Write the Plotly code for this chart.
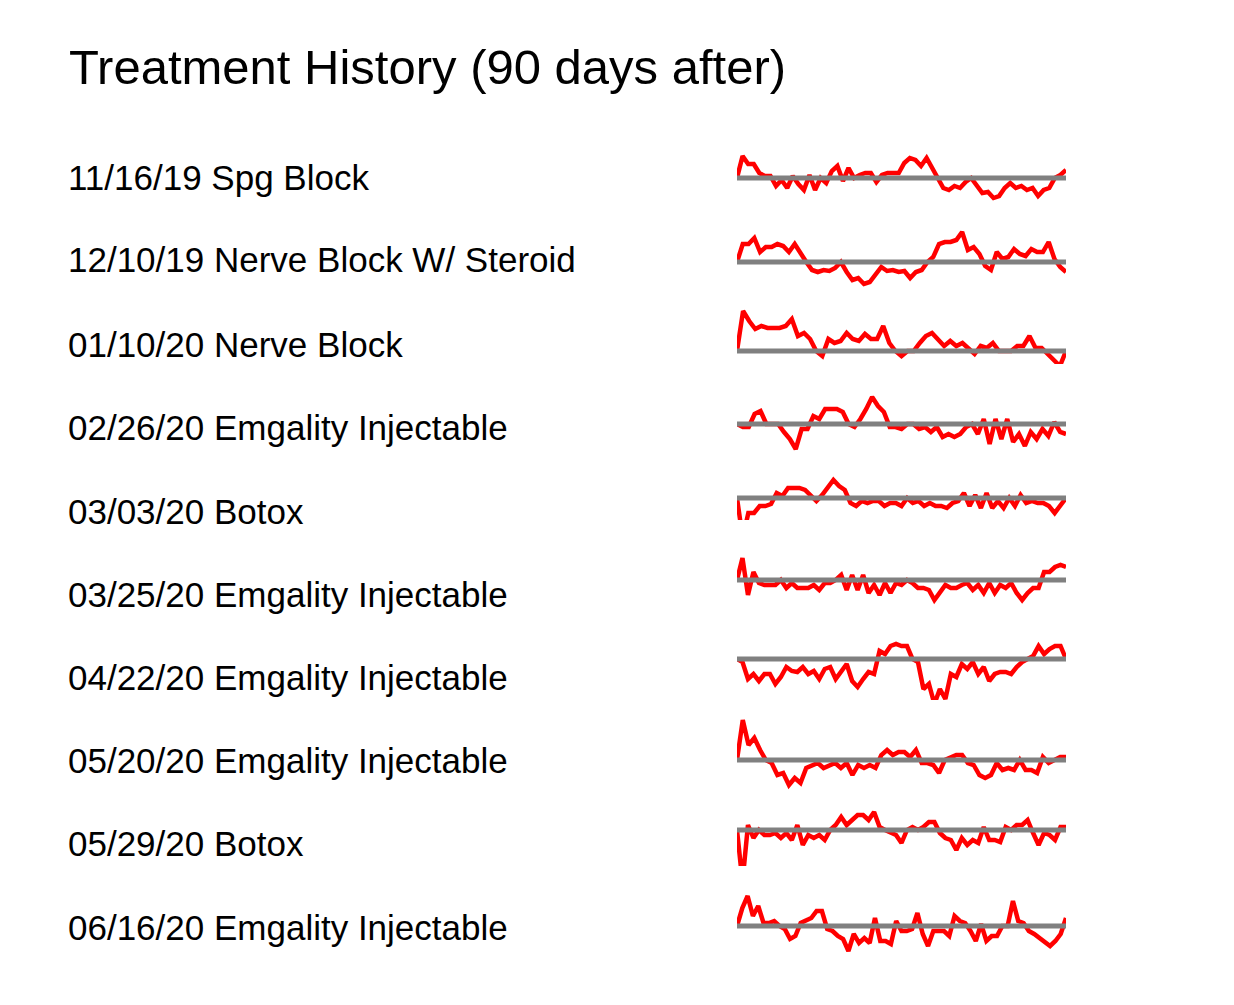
import plotly.graph_objects as go

labels = ["11/16/19 Spg Block", "12/10/19 Nerve Block W/ Steroid", "01/10/20 Nerve Block",
          "02/26/20 Emgality Injectable", "03/03/20 Botox", "03/25/20 Emgality Injectable",
          "04/22/20 Emgality Injectable", "05/20/20 Emgality Injectable", "05/29/20 Botox",
          "06/16/20 Emgality Injectable"]

s1 = [0,22,14,14,5,2,2,-8,-2,-10,2,-6,-12,3,-12,0,-5,7,12,-3,10,0,3,5,5,-4,3,5,5,5,15,20,18,12,20,10,0,-10,-12,-8,-10,-4,0,-8,-15,-14,-20,-18,-10,-5,-10,-8,-12,-10,-18,-12,-10,0,3,8]
s2 = [0,18,18,24,10,15,15,18,16,10,18,8,0,-8,-10,-8,-9,-6,0,-10,-18,-16,-22,-20,-12,-5,-9,-8,-10,-9,-16,-10,-8,0,5,18,20,20,22,30,12,15,8,-4,-8,10,3,5,13,8,6,13,10,10,20,3,-5,-10]
s3 = [0,40,30,22,25,23,23,23,25,32,15,18,12,0,-5,12,8,10,18,12,10,17,12,12,25,8,0,-5,0,0,8,15,18,12,5,10,5,8,3,-3,5,3,8,0,0,0,5,5,15,3,3,-3,-8,-15,0]
s4 = [0,-3,-3,10,13,0,0,0,-8,-15,-25,-5,-5,8,5,15,15,15,12,0,-3,5,15,27,18,12,-3,-3,-5,0,0,-5,-3,-8,-3,-13,-10,-13,-10,-3,0,-10,5,-20,5,-15,5,-18,-10,-22,-8,-15,-5,-12,2,-8,-10]
s5 = [0,-40,-15,-15,-8,-8,-6,5,2,10,10,10,8,3,-3,3,10,18,12,8,-5,-8,-3,-5,-3,-3,-8,-5,-5,-8,0,-5,-3,-8,-5,-8,-8,-10,-5,-3,5,-8,3,-10,5,-10,-3,-10,0,-8,3,-5,-3,-5,-5,-8,-15,-8,0]
s6 = [0,22,-15,8,-3,-5,-5,-5,0,-8,-3,-8,-8,-8,-5,-10,-3,-3,0,5,-10,5,-10,5,-13,-5,-15,-3,-13,-3,-5,0,-3,-8,-8,-10,-20,-13,-5,-8,-8,-5,-3,-10,-5,-13,-3,-13,-5,-8,-3,-13,-20,-13,-8,-8,8,8,13,15,13]
s7 = [0,-3,-20,-15,-22,-15,-15,-25,-18,-8,-12,-13,-8,-15,-12,-20,-10,-8,-20,-13,-5,-22,-28,-20,-13,-15,8,5,13,15,13,13,0,-3,-30,-25,-45,-30,-40,-15,-18,-5,-10,-3,-15,-8,-22,-15,-13,-13,-15,-8,-3,0,3,13,5,10,13,13,0]
s8 = [0,40,15,22,10,0,-3,-15,-13,-25,-18,-23,-8,-5,-3,-8,-5,-3,-8,-3,-15,-5,-8,-5,-8,5,10,5,8,8,3,10,-3,-3,-5,-13,0,3,5,5,-3,-5,-15,-18,-15,-3,-10,-8,-10,0,-10,-10,-13,3,-3,0,3,3]
s9 = [0,-52,5,-8,0,-5,-5,-3,-8,-3,-10,5,-15,-5,-8,-5,-10,0,5,13,5,10,15,15,10,18,3,0,-3,-5,-13,0,3,0,3,8,8,-3,-8,-10,-20,-8,-15,-10,-13,3,-10,-10,-12,3,0,5,5,10,-3,-15,-3,-5,-10,3,3]
s10 = [0,18,30,10,20,3,3,5,0,-3,-13,-10,3,5,8,15,15,-3,-5,-10,-13,-25,-8,-17,-12,-17,8,-15,-15,-18,5,-5,-5,-3,13,-8,-20,-5,-5,-5,-10,10,5,3,-5,-15,2,-15,-10,-10,0,0,25,5,3,-5,-8,-12,-15,-20,-15,-8,8]
series = [s1, s2, s3, s4, s5, s6, s7, s8, s9, s10]

W, H = 1234, 1005
OFF = 8
baselines = [178, 262, 351, 424, 498, 580, 659, 760, 830, 926]
label_y = [177, 260, 344, 427, 511, 594, 677, 760, 843, 927]
x0, x1 = 737 - OFF, 1066 - OFF
half = 60

fig = go.Figure()
layout = {}
for i, (s, b) in enumerate(zip(series, baselines)):
    k = i + 1
    xa = "x" if k == 1 else f"x{k}"
    ya = "y" if k == 1 else f"y{k}"
    n = len(s)
    xs = list(range(n))
    fig.add_trace(go.Scatter(x=xs, y=s, mode="lines", line=dict(color="#ff0000", width=4.5),
                             xaxis=xa, yaxis=ya, hoverinfo="skip"))
    fig.add_trace(go.Scatter(x=[0, n - 1], y=[0, 0], mode="lines", line=dict(color="#808080", width=5),
                             xaxis=xa, yaxis=ya, hoverinfo="skip"))
    c = 1 - (b - OFF) / H
    layout["xaxis" if k == 1 else f"xaxis{k}"] = dict(domain=[x0 / W, x1 / W], range=[0, n - 1], visible=False, anchor=ya)
    layout["yaxis" if k == 1 else f"yaxis{k}"] = dict(domain=[c - half / H, c + half / H], range=[-half, half], visible=False, anchor=xa)

fig.update_layout(**layout)
annotations = [dict(text="Treatment History (90 days after)", x=(67 - OFF) / W, y=1 - (67 - OFF) / H, xref="paper", yref="paper",
                    xanchor="left", yanchor="middle", showarrow=False, font=dict(size=49, color="black"))]
for t, y in zip(labels, label_y):
    annotations.append(dict(text=t, x=(66 - OFF) / W, y=1 - (y - OFF) / H, xref="paper", yref="paper", xanchor="left",
                            yanchor="middle", showarrow=False, font=dict(size=35, color="black")))
fig.update_layout(width=W, height=H, margin=dict(l=0, r=0, t=0, b=0), showlegend=False,
                  paper_bgcolor="white", plot_bgcolor="white", annotations=annotations,
                  font=dict(family="Liberation Sans, Arial, sans-serif"))
fig.write_html("out.html")
